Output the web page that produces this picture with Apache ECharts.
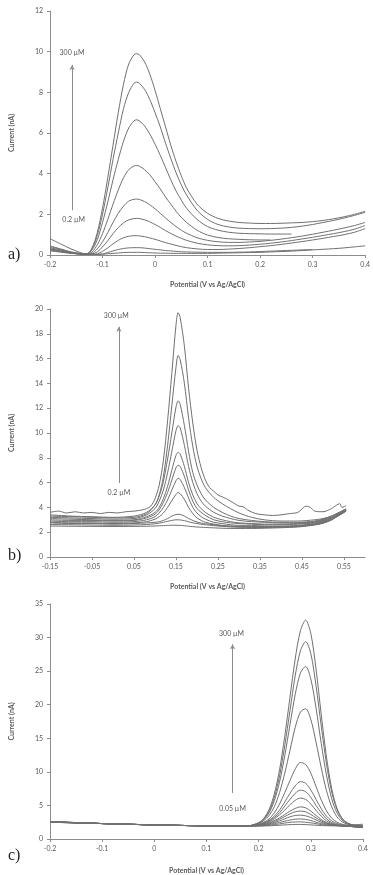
<!DOCTYPE html>
<html>
<head>
<meta charset="utf-8">
<script src="https://cdn.jsdelivr.net/npm/echarts/dist/echarts.min.js"></script>
<style>
  html, body { margin: 0; padding: 0; background: #fff; }
  #chart { width: 373px; height: 875px; }
</style>
</head>
<body>
<div id="chart"></div>
<script>
// panel a) potentials and currents (nA)
const xa = [-0.2,-0.18,-0.16,-0.14,-0.13,-0.12,-0.11,-0.1,-0.09,-0.08,-0.07,-0.06,-0.05,-0.04,-0.035,-0.03,-0.02,-0.01,0,0.01,0.02,0.03,0.04,0.05,0.06,0.08,0.1,0.12,0.14,0.16,0.18,0.2,0.22,0.24,0.26,0.28,0.3,0.32,0.34,0.36,0.38,0.4];
const a1 = [0.45,0.3,0.15,0.07,0.05,0.35,1.1,2.3,3.8,5.4,7.0,8.4,9.4,9.85,9.9,9.85,9.5,8.9,8.1,7.2,6.3,5.4,4.6,3.9,3.3,2.5,2.05,1.8,1.67,1.6,1.57,1.55,1.55,1.56,1.58,1.6,1.64,1.7,1.78,1.88,2.0,2.15];
const a2 = [0.35,0.25,0.12,0.06,0.05,0.3,0.95,2.0,3.3,4.7,6.0,7.2,8.0,8.45,8.5,8.45,8.15,7.65,7.0,6.3,5.5,4.75,4.05,3.45,2.95,2.2,1.75,1.5,1.38,1.32,1.3,1.29,1.3,1.32,1.36,1.42,1.5,1.6,1.7,1.82,1.95,2.1];
const a3 = [0.3,0.2,0.1,0.05,0.05,0.25,0.75,1.6,2.6,3.7,4.7,5.6,6.25,6.6,6.65,6.6,6.35,5.95,5.45,4.9,4.3,3.7,3.15,2.7,2.3,1.75,1.4,1.22,1.12,1.07,1.05,1.04,1.03,1.03,1.03];
const a4 = [0.4,0.28,0.14,0.06,0.04,0.15,0.5,1.05,1.75,2.5,3.2,3.8,4.2,4.38,4.4,4.37,4.2,3.95,3.6,3.25,2.85,2.5,2.15,1.85,1.6,1.22,0.98,0.86,0.8,0.77,0.75,0.74,0.74];
const a5 = [0.3,0.2,0.1,0.05,0.03,0.08,0.3,0.65,1.1,1.6,2.05,2.4,2.65,2.74,2.75,2.73,2.63,2.47,2.27,2.05,1.82,1.6,1.4,1.22,1.07,0.85,0.72,0.65,0.62,0.62,0.64,0.67,0.72,0.78,0.85,0.93,1.02,1.12,1.22,1.33,1.45,1.6];
const a6 = [0.25,0.17,0.09,0.04,0.03,0.05,0.15,0.4,0.7,1.05,1.35,1.58,1.73,1.79,1.8,1.79,1.73,1.63,1.5,1.36,1.2,1.06,0.93,0.82,0.72,0.58,0.5,0.46,0.45,0.46,0.49,0.53,0.58,0.64,0.71,0.79,0.87,0.96,1.05,1.15,1.27,1.45];
const a7 = [0.2,0.14,0.08,0.04,0.03,0.03,0.05,0.18,0.35,0.55,0.72,0.85,0.92,0.95,0.95,0.94,0.9,0.84,0.77,0.69,0.61,0.54,0.47,0.41,0.36,0.3,0.27,0.27,0.29,0.32,0.36,0.41,0.46,0.52,0.59,0.66,0.74,0.82,0.91,1.0,1.12,1.3];
const a8 = [0.25,0.17,0.1,0.05,0.03,0.03,0.03,0.05,0.12,0.2,0.27,0.32,0.35,0.36,0.36,0.36,0.34,0.31,0.28,0.25,0.22,0.2,0.18,0.16,0.15,0.14,0.13,0.13,0.13,0.14,0.15,0.17,0.19,0.21,0.23,0.25,0.27];
const a9 = [0.8,0.55,0.3,0.1,0.05,0.03,0.03,0.04,0.06,0.08,0.1,0.12,0.13,0.13,0.13,0.13,0.12,0.11,0.1,0.09,0.09,0.08,0.08,0.08,0.08,0.08,0.08,0.09,0.1,0.11,0.12,0.13,0.15,0.17,0.19,0.22,0.25,0.28,0.31,0.35,0.4,0.45];

// panel b)
const xb = [-0.15,-0.1,-0.05,0,0.05,0.08,0.1,0.11,0.12,0.13,0.14,0.15,0.155,0.16,0.17,0.18,0.19,0.2,0.21,0.22,0.24,0.26,0.28,0.3,0.33,0.36,0.4,0.44,0.48,0.5,0.52,0.555];
const bTopX = [-0.15,-0.13,-0.11,-0.09,-0.07,-0.05,-0.03,-0.01,0.01,0.03,0.05,0.07,0.08,0.09,0.1,0.11,0.12,0.13,0.14,0.15,0.155,0.16,0.17,0.18,0.19,0.2,0.21,0.22,0.23,0.24,0.25,0.26,0.27,0.28,0.29,0.3,0.31,0.32,0.34,0.36,0.38,0.4,0.42,0.44,0.46,0.47,0.48,0.5,0.52,0.54,0.545,0.555];
const bTop = [3.6,3.7,3.55,3.65,3.55,3.6,3.5,3.6,3.55,3.65,3.7,3.8,3.9,4.1,4.7,5.8,7.8,11.0,14.8,18.7,19.7,19.3,17.0,13.6,10.8,8.6,7.2,6.2,5.6,5.3,5.0,4.85,4.7,4.5,4.3,4.1,4.05,3.8,3.5,3.4,3.35,3.4,3.5,3.6,4.1,4.0,3.7,3.65,3.9,4.3,4.0,4.15];
const b2 = [3.4,3.3,3.25,3.2,3.3,3.6,4.2,5.0,6.5,9.0,12.2,15.3,16.25,15.9,14.0,11.2,8.9,7.3,6.3,5.6,4.8,4.3,3.9,3.55,3.2,3.0,2.9,2.9,3.0,3.1,3.3,3.9];
const b3 = [3.3,3.25,3.2,3.15,3.2,3.5,4.2,4.9,6.1,7.9,10.0,12.1,12.6,12.3,10.6,8.5,6.8,5.8,5.1,4.6,4.0,3.6,3.3,3.1,2.95,2.85,2.8,2.8,2.9,3.05,3.3,3.85];
const b4 = [3.2,3.15,3.1,3.05,3.1,3.4,3.9,4.5,5.4,6.8,8.5,10.2,10.6,10.4,9.0,7.3,6.0,5.1,4.5,4.1,3.6,3.3,3.1,2.95,2.85,2.8,2.75,2.75,2.85,3.0,3.25,3.8];
const b5 = [3.1,3.05,3.0,2.95,3.0,3.25,3.6,4.0,4.7,5.7,7.0,8.2,8.45,8.3,7.3,6.0,5.0,4.3,3.9,3.6,3.2,3.0,2.85,2.75,2.7,2.65,2.65,2.7,2.8,2.95,3.2,3.8];
const b6 = [3.0,2.95,2.95,2.9,2.95,3.15,3.45,3.8,4.4,5.2,6.2,7.2,7.4,7.3,6.5,5.4,4.5,3.9,3.6,3.35,3.0,2.85,2.75,2.7,2.65,2.6,2.6,2.65,2.75,2.9,3.15,3.75];
const b7 = [2.9,2.85,2.85,2.8,2.85,3.0,3.25,3.55,4.0,4.6,5.4,6.15,6.35,6.25,5.6,4.75,4.0,3.55,3.25,3.05,2.8,2.7,2.6,2.55,2.55,2.5,2.5,2.55,2.7,2.85,3.1,3.75];
const b8 = [2.8,2.75,2.75,2.7,2.75,2.85,3.05,3.25,3.55,4.0,4.55,5.05,5.2,5.1,4.65,4.0,3.5,3.15,2.95,2.8,2.65,2.55,2.5,2.45,2.45,2.45,2.45,2.5,2.65,2.8,3.05,3.7];
const b9 = [2.75,2.7,2.7,2.65,2.7,2.75,2.8,2.85,2.95,3.1,3.3,3.42,3.45,3.43,3.3,3.1,2.95,2.82,2.74,2.68,2.6,2.52,2.48,2.45,2.42,2.42,2.43,2.5,2.62,2.78,3.02,3.7];
const b10 = [2.62,2.6,2.58,2.56,2.58,2.62,2.68,2.73,2.8,2.88,2.95,3.0,3.0,2.99,2.93,2.84,2.76,2.7,2.64,2.6,2.53,2.47,2.42,2.4,2.38,2.38,2.4,2.46,2.6,2.75,3.0,3.7];
const b11 = [2.5,2.48,2.47,2.46,2.47,2.48,2.5,2.52,2.53,2.55,2.56,2.56,2.55,2.55,2.52,2.48,2.45,2.42,2.4,2.38,2.35,2.32,2.3,2.3,2.3,2.32,2.36,2.42,2.58,2.72,2.98,3.75];

// panel c)
const xc = [-0.2,-0.1,0,0.1,0.15,0.18,0.2,0.21,0.22,0.23,0.24,0.25,0.26,0.27,0.28,0.29,0.3,0.31,0.32,0.33,0.34,0.35,0.36,0.37,0.38,0.39,0.4];
const c1 = [2.6,2.3,2.1,1.95,1.9,1.95,2.45,3.1,4.4,6.7,10.3,15.3,21.1,26.8,31.0,32.6,30.6,25.3,18.5,12.2,7.5,4.6,3.1,2.4,2.1,2.0,1.95];
const c2 = [2.6,2.3,2.1,1.95,1.9,1.95,2.4,3.0,4.15,6.2,9.4,13.9,19.1,24.3,28.0,29.4,27.6,22.8,16.8,11.2,7.0,4.4,3.0,2.4,2.1,2.0,1.95];
const c3 = [2.6,2.3,2.1,1.95,1.9,1.95,2.35,2.9,3.9,5.7,8.5,12.4,17.0,21.5,24.7,25.7,23.8,19.5,14.2,9.5,6.0,3.9,2.8,2.3,2.05,1.95,1.9];
const c4 = [2.6,2.3,2.1,1.95,1.9,1.95,2.3,2.75,3.5,4.8,6.9,9.8,13.2,16.6,18.9,19.4,17.8,14.4,10.6,7.2,4.8,3.3,2.55,2.2,2.0,1.9,1.85];
const c5 = [2.55,2.3,2.1,1.95,1.9,1.95,2.2,2.5,3.0,3.9,5.2,6.9,8.7,10.4,11.4,11.1,9.8,7.8,5.8,4.2,3.1,2.5,2.2,2.05,1.95,1.85,1.8];
const c6 = [2.55,2.3,2.1,1.95,1.9,1.95,2.15,2.4,2.8,3.4,4.3,5.5,6.8,7.9,8.55,8.3,7.3,5.9,4.5,3.4,2.7,2.3,2.1,2.0,1.9,1.8,1.75];
const c7 = [2.55,2.3,2.1,1.95,1.9,1.95,2.1,2.35,2.7,3.2,3.9,4.9,5.9,6.8,7.28,7.05,6.2,5.0,3.9,3.0,2.45,2.15,2.0,1.95,1.85,1.8,1.7];
const c8 = [2.55,2.3,2.1,1.95,1.9,1.95,2.1,2.3,2.6,3.0,3.6,4.3,5.1,5.75,6.1,5.9,5.2,4.25,3.4,2.7,2.3,2.1,2.0,1.9,1.85,1.75,1.7];
const c9 = [2.55,2.3,2.1,1.95,1.9,1.95,2.05,2.2,2.45,2.75,3.15,3.65,4.15,4.55,4.78,4.65,4.15,3.5,2.9,2.45,2.2,2.05,1.95,1.9,1.85,1.8,1.7];
const c10 = [2.55,2.3,2.1,1.95,1.9,1.95,2.05,2.15,2.35,2.6,2.95,3.35,3.75,4.05,4.16,4.05,3.65,3.15,2.7,2.35,2.15,2.0,1.95,1.9,1.85,1.8,1.75];
const c11 = [2.5,2.3,2.1,1.95,1.9,1.95,2.0,2.1,2.25,2.45,2.7,3.0,3.3,3.5,3.55,3.45,3.2,2.85,2.5,2.25,2.1,2.0,1.95,1.9,1.85,1.8,1.8];
const c12 = [2.5,2.3,2.1,1.95,1.9,1.95,2.0,2.05,2.15,2.3,2.45,2.65,2.82,2.95,2.98,2.92,2.75,2.5,2.3,2.15,2.05,2.0,1.95,1.9,1.9,1.85,1.85];
const c13 = [2.5,2.3,2.1,1.95,1.9,1.92,1.95,2.0,2.05,2.15,2.25,2.38,2.48,2.54,2.55,2.5,2.4,2.28,2.15,2.05,2.0,1.97,1.95,1.95,1.95,1.95,2.0];
const c14 = [2.5,2.3,2.1,1.95,1.9,1.9,1.92,1.94,1.97,2.0,2.05,2.1,2.14,2.17,2.17,2.15,2.1,2.05,2.0,1.98,1.97,1.98,2.0,2.05,2.1,2.15,2.2];

const bTicks = [-0.15,-0.05,0.05,0.15,0.25,0.35,0.45,0.55];

// concentration arrows (data coords) and their labels
const arrowA = [[-0.158, 2.2], [-0.158, 9.35]];
const arrowB = [[0.014, 5.97], [0.014, 18.56]];
const arrowC = [[0.15, 6.86], [0.15, 29.0]];
const notesA = [['300 µM', -0.158, 9.95], ['0.2 µM', -0.155, 1.72]];
const notesB = [['300 µM', 0.008, 19.45], ['0.2 µM', 0.014, 5.17]];
const notesC = [['300 µM', 0.148, 30.6], ['0.05 µM', 0.15, 4.45]];

const AXIS = '#8c8c8c';
const TXT = '#595959';
const LINE = '#707070';
const FONT = 'Lato, "Liberation Sans", sans-serif';

function lineSeries(xs, ys, idx) {
  return {
    type: 'line',
    xAxisIndex: idx,
    yAxisIndex: idx,
    data: ys.map((y, i) => [xs[i], y]),
    showSymbol: false,
    smooth: 0.3,
    lineStyle: { color: LINE, width: 1 },
    silent: true
  };
}

function annotate(s, arrow, notes) {
  s.markLine = {
    silent: true,
    symbol: ['none', 'arrow'],
    symbolSize: [4, 5],
    label: { show: false },
    lineStyle: { color: AXIS, width: 1, type: 'solid' },
    data: [[{ coord: arrow[0] }, { coord: arrow[1] }]]
  };
  s.markPoint = {
    silent: true,
    symbol: 'rect',
    symbolSize: 1,
    itemStyle: { color: 'rgba(0,0,0,0)' },
    label: { show: true, position: 'inside', formatter: '{b}', fontSize: 7, color: TXT, fontFamily: FONT },
    data: notes.map(n => ({ name: n[0], coord: [n[1], n[2]] }))
  };
  return s;
}

function xAxis(idx, min, max, gap, extra) {
  return Object.assign({
    type: 'value', gridIndex: idx, min: min, max: max, interval: 0.1,
    name: 'Potential (V vs Ag/AgCl)', nameLocation: 'middle', nameGap: gap,
    nameTextStyle: { fontSize: 7, fontWeight: 'bold', color: TXT, fontFamily: FONT },
    axisLine: { onZero: false, lineStyle: { color: AXIS } },
    axisTick: { length: 3, lineStyle: { color: AXIS } },
    axisLabel: { fontSize: 7, color: TXT, margin: 6, fontFamily: FONT },
    splitLine: { show: false }
  }, extra || {});
}

function yAxis(idx, max, interval) {
  return {
    type: 'value', gridIndex: idx, min: 0, max: max, interval: interval,
    name: 'Current (nA)', nameLocation: 'middle', nameGap: 35,
    nameTextStyle: { fontSize: 7, fontWeight: 'bold', color: TXT, fontFamily: FONT },
    axisLine: { show: true, onZero: false, lineStyle: { color: AXIS } },
    axisTick: { show: true, length: 3, lineStyle: { color: AXIS } },
    axisLabel: { fontSize: 7, color: TXT, margin: 7, fontFamily: FONT },
    splitLine: { show: false }
  };
}

const seriesA = [a1, a2, a3, a4, a5, a6, a7, a8, a9].map(ys => lineSeries(xa, ys, 0));
const seriesB = [lineSeries(bTopX, bTop, 1)].concat([b2, b3, b4, b5, b6, b7, b8, b9, b10, b11].map(ys => lineSeries(xb, ys, 1)));
const seriesC = [c1, c2, c3, c4, c5, c6, c7, c8, c9, c10, c11, c12, c13, c14].map(ys => lineSeries(xc, ys, 2));
annotate(seriesA[0], arrowA, notesA);
annotate(seriesB[0], arrowB, notesB);
annotate(seriesC[0], arrowC, notesC);

const panelLabel = (text, top) => ({
  text: text, left: 8, top: top, padding: 0,
  textStyle: { fontFamily: '"Liberation Serif", serif', fontSize: 16, fontWeight: 'normal', color: '#222' }
});

const chart = echarts.init(document.getElementById('chart'));
chart.setOption({
  animation: false,
  backgroundColor: '#fff',
  title: [panelLabel('a)', 247), panelLabel('b)', 548), panelLabel('c)', 848)],
  grid: [
    { left: 41, top: 11, width: 330, height: 244 },
    { left: 43, top: 309, width: 322, height: 248 },
    { left: 41, top: 604, width: 322, height: 246 }
  ],
  xAxis: [
    xAxis(0, -0.2, 0.4, 26),
    xAxis(1, -0.15, 0.6, 26, {
      interval: 0.05,
      axisTick: { length: 3, lineStyle: { color: AXIS }, customValues: bTicks },
      axisLabel: { fontSize: 7, color: TXT, margin: 6, fontFamily: FONT, customValues: bTicks }
    }),
    xAxis(2, -0.2, 0.4, 28)
  ],
  yAxis: [yAxis(0, 12, 2), yAxis(1, 20, 2), yAxis(2, 35, 5)],
  series: seriesA.concat(seriesB, seriesC)
});
</script>
</body>
</html>
